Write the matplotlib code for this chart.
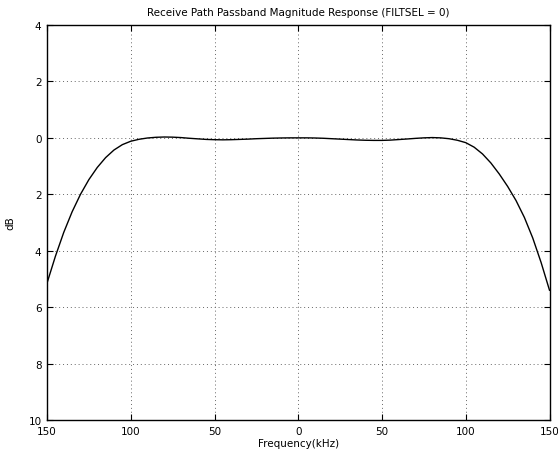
import matplotlib
matplotlib.use("Agg")
import matplotlib.pyplot as plt

# frequency response (kHz, dB)
freq = [-150, -145, -140, -135, -130, -125, -120, -115, -110, -105, -100,
        -95, -90, -85, -80, -75, -70, -65, -60, -55, -50, -45, -40, -35,
        -30, -25, -20, -15, -10, -5, 0, 5, 10, 15, 20, 25, 30, 35, 40, 45,
        50, 55, 60, 65, 70, 75, 80, 85, 90, 95, 100, 105, 110, 115, 120,
        125, 130, 135, 140, 145, 150]
mag_db = [-5.15, -4.2, -3.35, -2.62, -2.0, -1.48, -1.05, -0.70, -0.43, -0.24, -0.12,
          -0.05, -0.005, 0.02, 0.03, 0.025, 0.01, -0.015, -0.035, -0.055, -0.065, -0.07, -0.065, -0.055,
          -0.045, -0.03, -0.02, -0.01, -0.004, 0.0, 0.0, 0.0, -0.005, -0.015, -0.03, -0.045, -0.06, -0.075, -0.085, -0.09,
          -0.09, -0.08, -0.06, -0.04, -0.018, 0.0, 0.01, 0.0, -0.03, -0.085, -0.17, -0.33, -0.57, -0.89, -1.28,
          -1.72, -2.22, -2.82, -3.55, -4.42, -5.4]

xticks = [-150, -100, -50, 0, 50, 100, 150]
xticklabels = ["150", "100", "50", "0", "50", "100", "150"]
yticks = [4, 2, 0, -2, -4, -6, -8, -10]
yticklabels = ["4", "2", "0", "2", "4", "6", "8", "10"]

fig = plt.figure(figsize=(5.58, 4.56), dpi=100)
ax = fig.add_axes([47 / 558, 1 - 421 / 456, 502.5 / 558, 395 / 456])

ax.plot(freq, mag_db, color="black", linewidth=1.0)

ax.set_xlim(-150, 150)
ax.set_ylim(-10, 4)
ax.set_xticks(xticks)
ax.set_xticklabels(xticklabels)
ax.set_yticks(yticks)
ax.set_yticklabels(yticklabels)

ax.grid(True, linestyle=(0, (1, 3)), color="#666666", linewidth=0.7)
ax.tick_params(direction="in", top=True, right=True, length=4, width=0.8,
               labelsize=7.5, pad=4)
for s in ax.spines.values():
    s.set_linewidth(1.0)

ax.set_title("Receive Path Passband Magnitude Response (FILTSEL = 0)", fontsize=7.5, pad=7)
ax.set_xlabel("Frequency(kHz)", fontsize=7.5, labelpad=2)
ax.set_ylabel("dB", fontsize=7.5, labelpad=9)

fig.savefig("out.png", dpi=100)
